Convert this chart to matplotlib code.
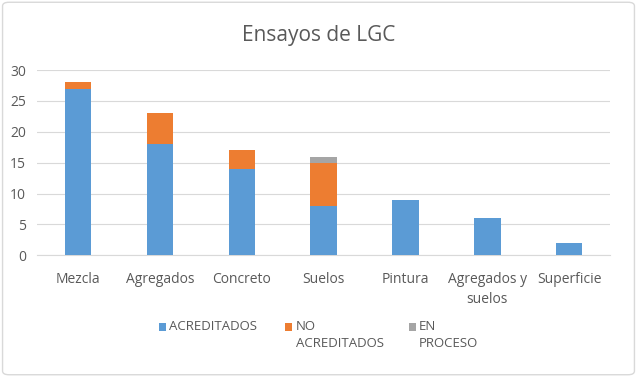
import matplotlib.pyplot as plt
from matplotlib.patches import Rectangle, FancyBboxPatch

categorias = ["Mezcla", "Agregados", "Concreto", "Suelos", "Pintura", "Agregados y\nsuelos", "Superficie"]
acreditados = [27, 18, 14, 8, 9, 6, 2]
no_acreditados = [1, 5, 3, 7, 0, 0, 0]
en_proceso = [0, 0, 0, 1, 0, 0, 0]
yticks = [0, 5, 10, 15, 20, 25, 30]

azul = "#5B9BD5"
naranja = "#ED7D31"
gris = "#A5A5A5"
texto = "#595959"

plt.rcParams['font.family'] = ['Open Sans', 'DejaVu Sans']

fig = plt.figure(figsize=(6.37, 3.77), dpi=100)
ax = fig.add_axes([0.058, 0.323, 0.9, 0.491])

x = range(len(categorias))
base2 = [a + b for a, b in zip(acreditados, no_acreditados)]
ax.bar(x, acreditados, width=0.32, color=azul, zorder=3)
ax.bar(x, no_acreditados, width=0.32, bottom=acreditados, color=naranja, zorder=3)
ax.bar(x, en_proceso, width=0.32, bottom=base2, color=gris, zorder=3)

ax.set_xlim(-0.5, len(categorias) - 0.5)
ax.set_ylim(0, 30)
ax.set_yticks(yticks)
ax.yaxis.grid(True, color="#D9D9D9", linewidth=0.8, zorder=0)
ax.set_xticks(list(x))
ax.set_xticklabels(categorias, fontsize=10, color=texto, linespacing=1.45)
ax.tick_params(axis='y', labelsize=10, labelcolor=texto, length=0, pad=8)
ax.tick_params(axis='x', length=0, pad=12)
for s in ["top", "right", "left"]:
    ax.spines[s].set_visible(False)
ax.spines["bottom"].set_color("#D9D9D9")

fig.text(0.5, 0.905, "Ensayos de LGC", ha="center", va="center", fontsize=15, color=texto)

# leyenda
leyenda = [(azul, "ACREDITADOS", 0.25), (naranja, "NO\nACREDITADOS", 0.448), (gris, "EN\nPROCESO", 0.642)]
for color, etiqueta, px in leyenda:
    fig.patches.append(Rectangle((px, 0.123), 0.011, 0.019, transform=fig.transFigure,
                                 facecolor=color, edgecolor="none"))
    fig.text(px + 0.016, 0.15, etiqueta, ha="left", va="top", fontsize=9.5, color=texto, linespacing=1.4)

fig.patches.append(FancyBboxPatch((0.004, 0.006), 0.992, 0.988, boxstyle="round,pad=0,rounding_size=0.01",
                                  transform=fig.transFigure, facecolor="none", edgecolor="#D9D9D9", linewidth=1))

plt.savefig("out.png")
